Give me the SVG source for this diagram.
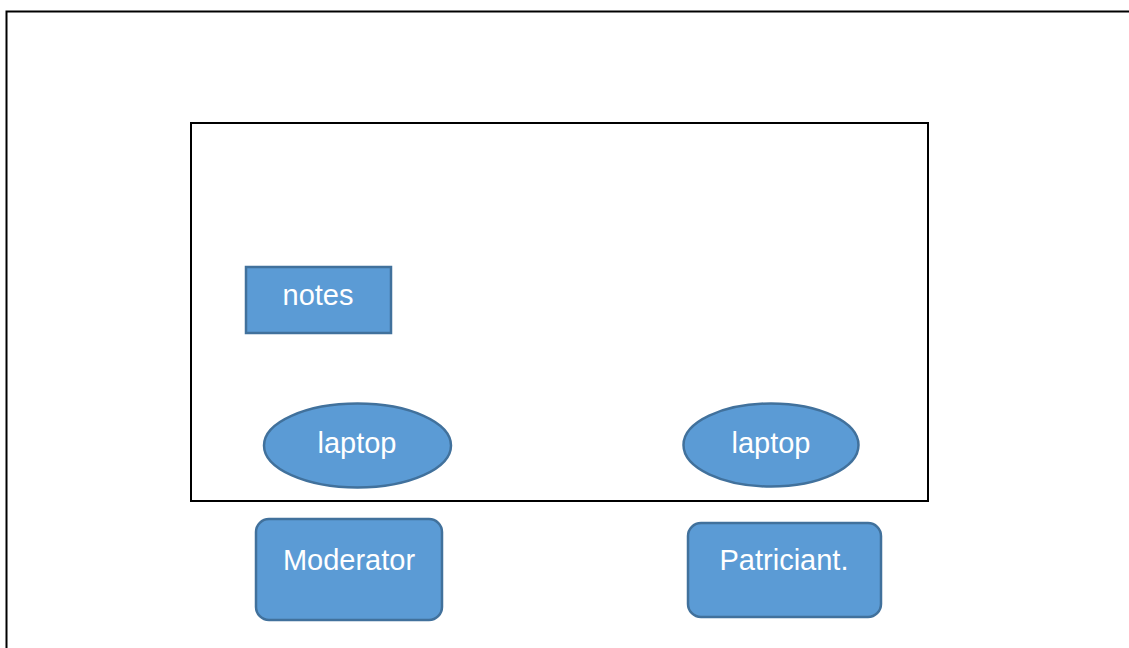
<svg xmlns="http://www.w3.org/2000/svg" width="1129" height="648" viewBox="0 0 1129 648">
<style>
.frame{fill:none;stroke:#000;stroke-width:2}
.shape{fill:#5B9BD5;stroke:#41719C;stroke-width:2.5}
.lbl{font-family:"Liberation Sans",Arial,sans-serif;font-size:29px;fill:#fff;text-anchor:middle}
</style>
<rect width="1129" height="648" fill="#fff"/>
<g id="outer"><rect class="frame" x="6.5" y="11.5" width="1140" height="660"/></g>
<g id="room"><rect class="frame" x="191" y="123" width="737" height="378"/></g>
<g id="connectors"></g>
<g id="notes"><rect class="shape" x="246" y="267" width="145" height="66"/><text class="lbl" x="318" y="305">notes</text></g>
<g id="laptop1"><ellipse class="shape" cx="357.5" cy="445.5" rx="93.5" ry="42"/><text class="lbl" x="357" y="453">laptop</text></g>
<g id="laptop2"><ellipse class="shape" cx="771" cy="445" rx="87.5" ry="41.5"/><text class="lbl" x="771" y="453">laptop</text></g>
<g id="moderator"><rect class="shape" x="256" y="519" width="186" height="101" rx="13"/><text class="lbl" x="349" y="570">Moderator</text></g>
<g id="participant"><rect class="shape" x="688" y="523" width="193" height="94" rx="13"/><text class="lbl" x="784" y="570">Patriciant.</text></g>
</svg>
